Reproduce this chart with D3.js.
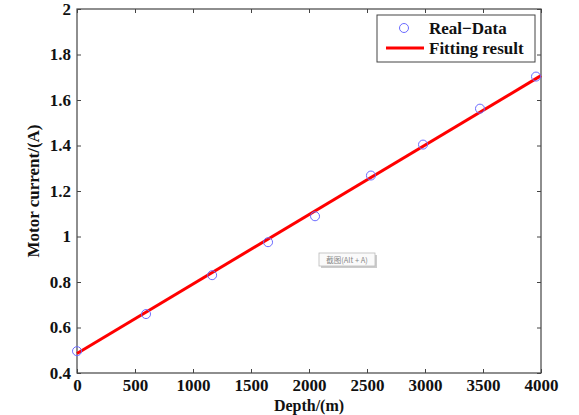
<!DOCTYPE html>
<html>
<head>
<meta charset="utf-8">
<script src="https://cdn.jsdelivr.net/npm/d3@7"></script>
<style>
  body { margin: 0; background: #fff; }
  svg { display: block; }
</style>
</head>
<body>
<script>
const WIDTH = 579;
const HEIGHT = 415;
const FONT = '"Liberation Serif", "Times New Roman", serif';
const AXIS = '#444';

// measured data (depth in m, current in A)
const depth = [0, 595, 1165, 1647, 2052, 2534, 2983, 3474, 3957];
const current = [0.496, 0.659, 0.830, 0.975, 1.089, 1.268, 1.404, 1.562, 1.703];
// fitted line endpoints
const fitDepth = [0, 4000];
const fitCurrent = [0.486, 1.707];

const xTicks = [0, 500, 1000, 1500, 2000, 2500, 3000, 3500, 4000];
const yTicks = [0.4, 0.6, 0.8, 1, 1.2, 1.4, 1.6, 1.8, 2];

const margin = { left: 77, right: 579 - 541, top: 9, bottom: 415 - 373 };

const svg = d3.select('body').append('svg')
  .attr('width', WIDTH)
  .attr('height', HEIGHT);

const x = d3.scaleLinear().domain([0, 4000]).range([margin.left, WIDTH - margin.right]);
const y = d3.scaleLinear().domain([0.4, 2]).range([HEIGHT - margin.bottom, margin.top]);

// frame
svg.append('rect')
  .attr('x', x(0)).attr('y', y(2))
  .attr('width', x(4000) - x(0)).attr('height', y(0.4) - y(2))
  .attr('fill', '#fff').attr('stroke', AXIS).attr('stroke-width', 1.2);

function styleAxis(g) {
  g.select('.domain').remove();
  g.selectAll('.tick line').attr('stroke', AXIS).attr('stroke-width', 1);
  g.selectAll('.tick text')
    .attr('font-family', FONT)
    .attr('font-weight', 'bold')
    .attr('font-size', 17)
    .attr('fill', '#111');
}

// bottom / left axes with inward ticks
svg.append('g')
  .attr('transform', `translate(0,${y(0.4)})`)
  .call(d3.axisBottom(x).tickValues(xTicks).tickSizeInner(-4).tickSizeOuter(0).tickPadding(6).tickFormat(d3.format('d')))
  .call(styleAxis);

svg.append('g')
  .attr('transform', `translate(${x(0)},0)`)
  .call(d3.axisLeft(y).tickValues(yTicks).tickSizeInner(-4).tickSizeOuter(0).tickPadding(6).tickFormat(d => d3.format('~g')(d)))
  .call(styleAxis);

// mirrored ticks on top and right
svg.append('g')
  .attr('transform', `translate(0,${y(2)})`)
  .call(d3.axisTop(x).tickValues(xTicks).tickSizeInner(-4).tickSizeOuter(0).tickFormat(''))
  .call(styleAxis);

svg.append('g')
  .attr('transform', `translate(${x(4000)},0)`)
  .call(d3.axisRight(y).tickValues(yTicks).tickSizeInner(-4).tickSizeOuter(0).tickFormat(''))
  .call(styleAxis);

// fitted line
const fit = fitDepth.map((d, i) => [d, fitCurrent[i]]);
svg.append('path')
  .datum(fit)
  .attr('d', d3.line().x(d => x(d[0])).y(d => y(d[1])))
  .attr('stroke', '#ff0000')
  .attr('stroke-width', 3)
  .attr('fill', 'none');

// measured points
svg.selectAll('circle.pt')
  .data(depth.map((d, i) => [d, current[i]]))
  .join('circle')
  .attr('class', 'pt')
  .attr('cx', d => x(d[0]))
  .attr('cy', d => y(d[1]))
  .attr('r', 4.5)
  .attr('fill', 'none')
  .attr('stroke', '#6b6bff')
  .attr('stroke-width', 1);

// axis titles
svg.append('text')
  .attr('x', (x(0) + x(4000)) / 2)
  .attr('y', 411)
  .attr('text-anchor', 'middle')
  .attr('font-family', FONT).attr('font-weight', 'bold').attr('font-size', 16)
  .attr('fill', '#111')
  .text('Depth/(m)');

svg.append('text')
  .attr('transform', `translate(39,${(y(0.4) + y(2)) / 2}) rotate(-90)`)
  .attr('text-anchor', 'middle')
  .attr('font-family', FONT).attr('font-weight', 'bold').attr('font-size', 17)
  .attr('fill', '#111')
  .text('Motor current/(A)');

// legend
const lg = svg.append('g').attr('transform', 'translate(377,15)');
lg.append('rect')
  .attr('width', 158).attr('height', 47)
  .attr('fill', '#fff').attr('stroke', AXIS).attr('stroke-width', 1);
lg.append('circle')
  .attr('cx', 27).attr('cy', 13).attr('r', 4.5)
  .attr('fill', 'none').attr('stroke', '#6b6bff').attr('stroke-width', 1);
lg.append('line')
  .attr('x1', 9).attr('x2', 47).attr('y1', 33).attr('y2', 33)
  .attr('stroke', '#ff0000').attr('stroke-width', 3);
lg.append('text')
  .attr('x', 52).attr('y', 19)
  .attr('font-family', FONT).attr('font-weight', 'bold').attr('font-size', 17)
  .attr('fill', '#111')
  .text('Real\u2212Data');
lg.append('text')
  .attr('x', 52).attr('y', 39)
  .attr('font-family', FONT).attr('font-weight', 'bold').attr('font-size', 17)
  .attr('fill', '#111')
  .text('Fitting result');

// screenshot tooltip artifact visible in the source
const tip = svg.append('g').attr('transform', 'translate(319,253)');
tip.append('rect')
  .attr('x', 2).attr('y', 2).attr('width', 56).attr('height', 13)
  .attr('fill', '#ccc');
tip.append('rect')
  .attr('width', 56).attr('height', 13)
  .attr('fill', '#fafafa').attr('stroke', '#bbb').attr('stroke-width', 0.8);
tip.append('text')
  .attr('x', 28).attr('y', 9.5)
  .attr('text-anchor', 'middle')
  .attr('font-family', '"Noto Sans CJK SC", sans-serif').attr('font-size', 7.5)
  .attr('fill', '#888')
  .text('截图(Alt + A)');
</script>
</body>
</html>
